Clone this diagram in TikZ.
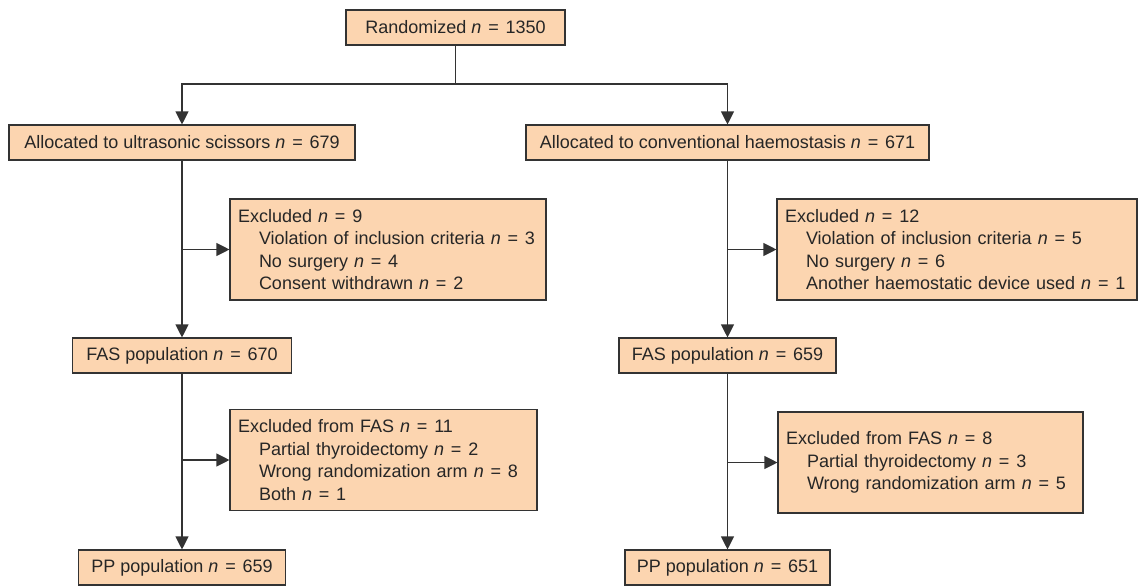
\documentclass[tikz,border=0pt]{standalone}
\usepackage{fontspec}
\setmainfont{Liberation Sans}
\usepackage{tikz}
\usetikzlibrary{arrows.meta}

\definecolor{peche}{RGB}{252,213,176}
\definecolor{trait}{RGB}{51,51,51}
\newcommand{\nval}[1]{\textit{n}\hspace{0.38em}=\hspace{0.38em}#1}

\begin{document}
\begin{tikzpicture}[x=1pt, y=-1pt]
			\tikzset{boite/.style={rectangle, draw=trait, fill=peche, line width=1.1pt, inner sep=0pt, minimum height=35pt, text=black!85, font=\fontsize{18}{22.5}\selectfont},
			exclu/.style={boite, align=left, inner xsep=8pt, minimum height=101pt},
			ligne/.style={draw=trait, line width=1.1pt},
			fleche/.style={ligne, >={Triangle[length=13pt, width=13pt]}, ->}};

			\useasboundingbox (0,0) rectangle (1138,586);

			\node[boite, minimum width=219pt] (rand)   at ( 455.5,  27.5) {Randomized \nval{1350}};

			\node[boite, minimum width=346pt] (allocL) at ( 182,   142.5) {Allocated to ultrasonic scissors \nval{679}};
			\node[exclu, text width=300pt]    (exL1)   at ( 388,   249.5) {Excluded \nval{9}\\ \hspace*{21pt}Violation of inclusion criteria \nval{3}\\ \hspace*{21pt}No surgery \nval{4}\\ \hspace*{21pt}Consent withdrawn \nval{2}};
			\node[boite, minimum width=219pt] (fasL)   at ( 182,   355.5) {FAS population \nval{670}};
			\node[exclu, text width=291pt]    (exL2)   at ( 383.5, 460  ) {Excluded from FAS \nval{11}\\ \hspace*{21pt}Partial thyroidectomy \nval{2}\\ \hspace*{21pt}Wrong randomization arm \nval{8}\\ \hspace*{21pt}Both \nval{1}};
			\node[boite, minimum width=207pt] (ppL)    at ( 182,   567.5) {PP population \nval{659}};

			\node[boite, minimum width=403pt] (allocR) at ( 727.5, 142.5) {Allocated to conventional haemostasis \nval{671}};
			\node[exclu, text width=344pt]    (exR1)   at ( 957,   249.5) {Excluded \nval{12}\\ \hspace*{21pt}Violation of inclusion criteria \nval{5}\\ \hspace*{21pt}No surgery \nval{6}\\ \hspace*{21pt}Another haemostatic device used \nval{1}};
			\node[boite, minimum width=217pt] (fasR)   at ( 727.5, 355.5) {FAS population \nval{659}};
			\node[exclu, text width=289pt]    (exR2)   at ( 930.5, 462.5) {Excluded from FAS \nval{8}\\ \hspace*{21pt}Partial thyroidectomy \nval{3}\\ \hspace*{21pt}Wrong randomization arm \nval{5}};
			\node[boite, minimum width=205pt] (ppR)    at ( 727.5, 567.5) {PP population \nval{651}};

			\coordinate (split) at (455.5, 84);

			\draw[ligne]  (rand) -- (split);
			\draw[fleche] (split) -| (allocL);
			\draw[fleche] (split) -| (allocR);

			\draw[fleche] (allocL) -- (fasL);
			\draw[fleche] (allocL |- exL1) -- (exL1);
			\draw[fleche] (fasL) -- (ppL);
			\draw[fleche] (fasL |- exL2) -- (exL2);

			\draw[fleche] (allocR) -- (fasR);
			\draw[fleche] (allocR |- exR1) -- (exR1);
			\draw[fleche] (fasR) -- (ppR);
			\draw[fleche] (fasR |- exR2) -- (exR2);

		\end{tikzpicture}
\end{document}
